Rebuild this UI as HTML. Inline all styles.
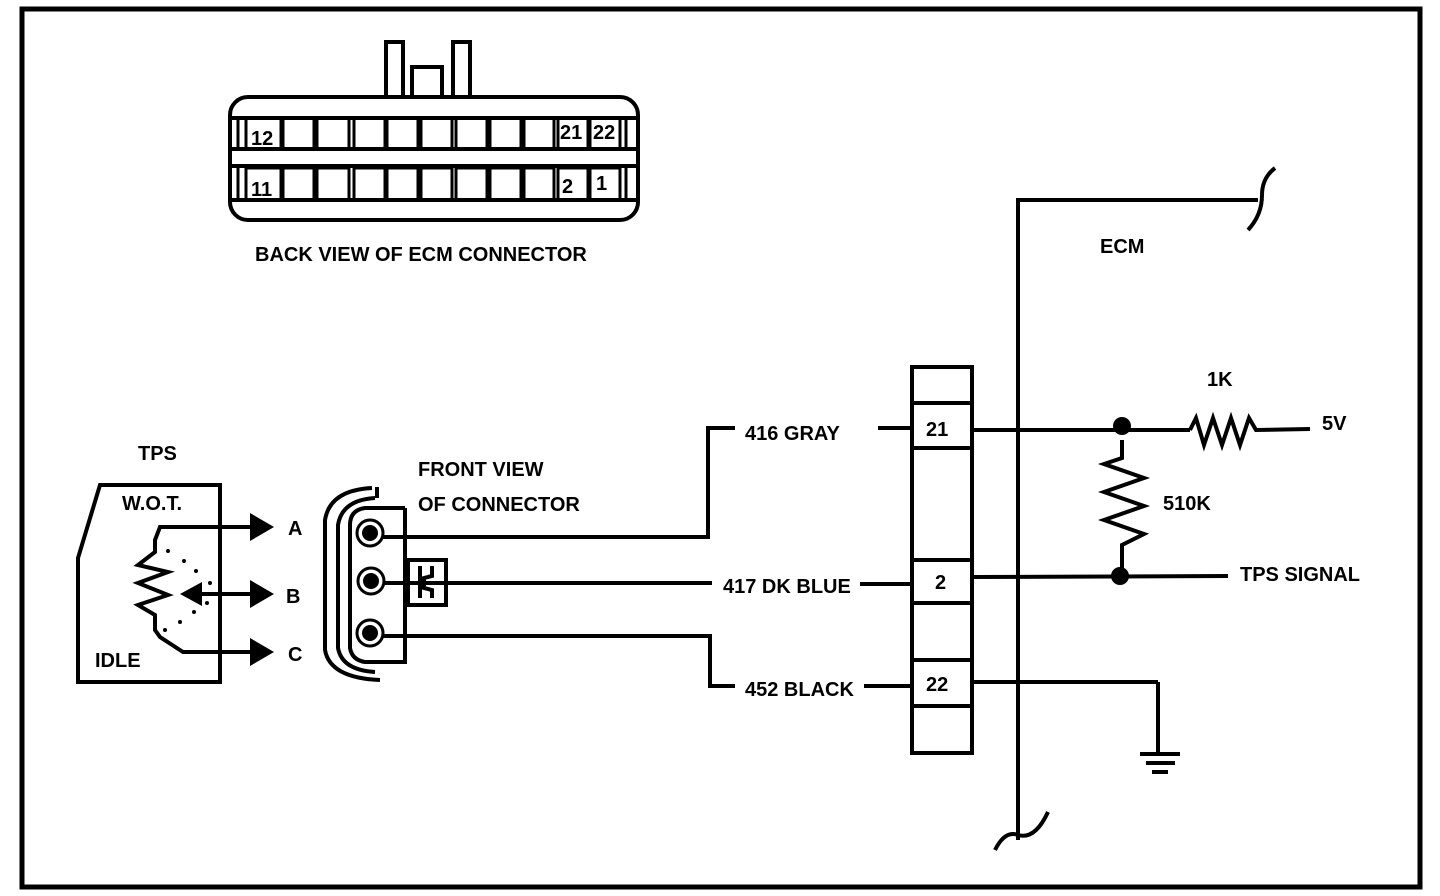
<!DOCTYPE html>
<html><head><meta charset="utf-8"><style>
html,body{margin:0;padding:0;background:#fff}
svg{display:block}
text{font-family:"Liberation Sans",sans-serif;font-weight:bold;font-size:20px;fill:#000}
</style></head><body>
<svg width="1440" height="896" viewBox="0 0 1440 896" xmlns="http://www.w3.org/2000/svg">
<rect x="22" y="9" width="1398" height="878" fill="none" stroke="#000" stroke-width="5"/>
<g fill="none" stroke="#000" stroke-width="4">
<!-- ECM connector -->
<rect x="386" y="42" width="17" height="55"/>
<rect x="412" y="67" width="30" height="30"/>
<rect x="453" y="42" width="17" height="55"/>
<rect x="230" y="97" width="408" height="123" rx="18"/>
<line x1="232" y1="118" x2="636" y2="118"/>
<line x1="232" y1="149" x2="636" y2="149"/>
<line x1="232" y1="166" x2="636" y2="166"/>
<line x1="232" y1="200" x2="636" y2="200"/>
</g>
<g fill="none" stroke="#000" stroke-width="3">
<rect x="246" y="118" width="35" height="31"/><rect x="283" y="118" width="31" height="31"/><rect x="317" y="118" width="32" height="31"/><rect x="354" y="118" width="31" height="31"/><rect x="387" y="118" width="31" height="31"/><rect x="421" y="118" width="31" height="31"/><rect x="456" y="118" width="31" height="31"/><rect x="490" y="118" width="31" height="31"/><rect x="524" y="118" width="30" height="31"/><rect x="558" y="118" width="30" height="31"/><rect x="590" y="118" width="30" height="31"/><line x1="626" y1="118" x2="626" y2="149"/><line x1="238" y1="118" x2="238" y2="149"/>
<rect x="246" y="168" width="35" height="32"/><rect x="283" y="168" width="31" height="32"/><rect x="317" y="168" width="32" height="32"/><rect x="354" y="168" width="31" height="32"/><rect x="387" y="168" width="31" height="32"/><rect x="421" y="168" width="31" height="32"/><rect x="456" y="168" width="31" height="32"/><rect x="490" y="168" width="31" height="32"/><rect x="524" y="168" width="30" height="32"/><rect x="558" y="168" width="30" height="32"/><rect x="590" y="168" width="30" height="32"/><line x1="626" y1="168" x2="626" y2="200"/><line x1="238" y1="168" x2="238" y2="200"/>
</g>
<text x="251" y="145">12</text><text x="560" y="139">21</text><text x="593" y="139">22</text>
<text x="251" y="196">11</text><text x="562" y="193">2</text><text x="596" y="190">1</text>
<text x="255" y="261">BACK VIEW OF ECM CONNECTOR</text>

<!-- ECM frame -->
<g fill="none" stroke="#000" stroke-width="4">
<line x1="1018" y1="198" x2="1018" y2="840"/>
<line x1="1018" y1="200" x2="1258" y2="200"/>
<path d="M1248 230 Q1262 215 1262 195 Q1262 178 1275 168"/>
<path d="M995 850 Q1005 830 1018 835 Q1035 840 1048 812"/>
<!-- pin strip -->
<rect x="912" y="367" width="60" height="386"/>
<line x1="912" y1="403" x2="972" y2="403"/><line x1="912" y1="448" x2="972" y2="448"/>
<line x1="912" y1="560" x2="972" y2="560"/><line x1="912" y1="603" x2="972" y2="603"/>
<line x1="912" y1="660" x2="972" y2="660"/><line x1="912" y1="706" x2="972" y2="706"/>
<!-- right wires -->
<line x1="972" y1="430" x2="1190" y2="430"/>
<path d="M1190 430 L1196 418 L1204 445 L1213 418 L1222 445 L1231 418 L1240 445 L1249 418 L1256 430 L1310 429"/>
<path d="M1122 440 L1122 458 L1104 464 L1144 478 L1104 492 L1144 506 L1104 520 L1144 534 L1122 545 L1122 576"/>
<line x1="972" y1="577" x2="1228" y2="576"/>
<line x1="972" y1="682" x2="1158" y2="682"/>
<line x1="1158" y1="682" x2="1158" y2="753"/>
<line x1="1140" y1="754" x2="1180" y2="754"/>
<line x1="1146" y1="763" x2="1175" y2="763"/>
<line x1="1152" y1="772" x2="1168" y2="772"/>
<!-- left wires -->
<line x1="878" y1="428" x2="912" y2="428"/>
<line x1="860" y1="584" x2="912" y2="584"/>
<line x1="864" y1="686" x2="912" y2="686"/>
<path d="M383 537 L708 537 L708 428 L735 428"/>
<path d="M383 583 L712 583"/>
<path d="M383 636 L710 636 L710 686 L735 686"/>
</g>
<circle cx="1122" cy="426" r="9"/><circle cx="1120" cy="576" r="9"/>
<text x="1100" y="253">ECM</text>
<text x="1207" y="386">1K</text>
<text x="1322" y="430">5V</text>
<text x="1163" y="510">510K</text>
<text x="1240" y="581">TPS SIGNAL</text>
<text x="926" y="436">21</text><text x="935" y="589">2</text><text x="926" y="691">22</text>
<text x="745" y="440">416 GRAY</text>
<text x="723" y="593">417 DK BLUE</text>
<text x="745" y="696">452 BLACK</text>

<!-- TPS -->
<g fill="none" stroke="#000" stroke-width="4">
<path d="M100 485 L220 485 L220 682 L78 682 L78 558 Z"/>
<path d="M183 527 L160 527 L155 540 L155 552 L138 565 L168 572 L138 583 L168 595 L138 605 L155 615 L155 630 L160 637 L183 652 L255 652"/>
<line x1="183" y1="527" x2="255" y2="527"/>
<line x1="195" y1="594" x2="255" y2="594"/>
</g>
<polygon points="250,513 274,527 250,541"/>
<polygon points="250,580 274,594 250,608"/>
<polygon points="250,638 274,652 250,666"/>
<polygon points="180,594 202,582 202,606"/>
<g fill="#000"><circle cx="168" cy="551" r="2"/><circle cx="184" cy="561" r="2"/><circle cx="196" cy="571" r="2"/><circle cx="210" cy="583" r="2"/><circle cx="207" cy="603" r="2"/><circle cx="194" cy="612" r="2"/><circle cx="180" cy="622" r="2"/><circle cx="165" cy="630" r="2"/></g>
<text x="138" y="460">TPS</text>
<text x="122" y="510">W.O.T.</text>
<text x="95" y="667">IDLE</text>
<text x="288" y="535">A</text><text x="286" y="603">B</text><text x="288" y="661">C</text>

<!-- front connector -->
<g fill="none" stroke="#000" stroke-width="4">
<path d="M372 488 Q330 490 325 520 L325 650 Q330 678 380 680"/>
<path d="M375 498 Q342 500 338 525 L338 648 Q342 670 375 672"/>
<path d="M405 508 L365 508 Q350 510 350 525 L350 648 Q352 660 365 662 L405 662 L405 508"/>
<line x1="377" y1="487" x2="377" y2="498"/>
<rect x="408" y="560" width="38" height="45"/>
<path d="M420 566 L420 598 M432 566 L432 576 L424 578 L424 588 L432 590 L432 598"/>
</g>
<g fill="#fff" stroke="#000" stroke-width="3">
<circle cx="370" cy="533" r="13"/><circle cx="371" cy="581" r="13"/><circle cx="370" cy="633" r="13"/>
</g>
<circle cx="370" cy="533" r="8"/><circle cx="371" cy="581" r="8"/><circle cx="370" cy="633" r="8"/>
<text x="418" y="476">FRONT VIEW</text>
<text x="418" y="511">OF CONNECTOR</text>
</svg>
</body></html>
